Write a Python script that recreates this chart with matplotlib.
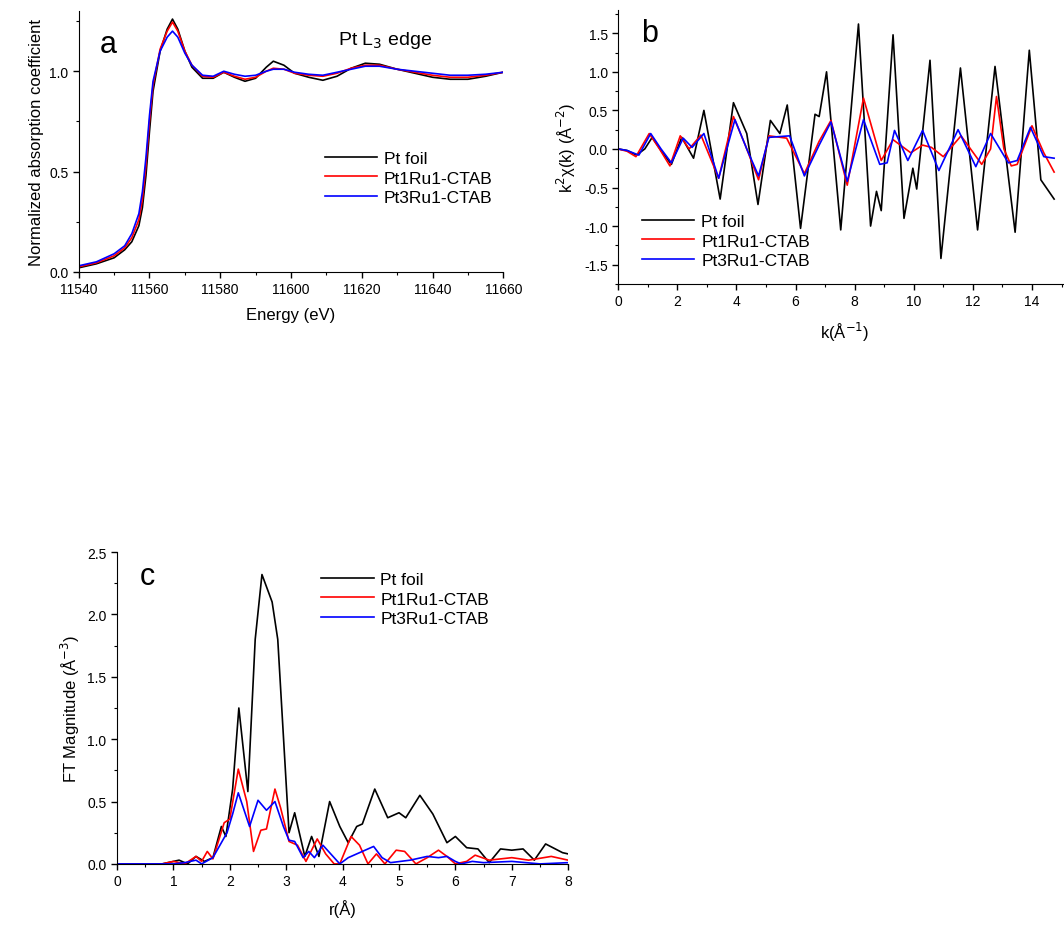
import matplotlib
matplotlib.use("Agg")
import matplotlib.pyplot as plt
from matplotlib.ticker import MultipleLocator, AutoMinorLocator

plt.rcParams["font.family"] = ["Liberation Sans", "DejaVu Sans"]
plt.rcParams["axes.unicode_minus"] = False

LABELS = ["Pt foil", "Pt1Ru1-CTAB", "Pt3Ru1-CTAB"]
COLORS = ["black", "red", "blue"]

# ── Panel a: XANES ────────────────────────────────────────────────────────────
E = [11540, 11545, 11550, 11553, 11555, 11557, 11558, 11559, 11560, 11561, 11563, 11565,
     11566.5, 11568, 11570, 11572, 11575, 11578, 11581, 11584, 11587, 11590, 11593, 11595,
     11598, 11601, 11605, 11609, 11613, 11617, 11621, 11625, 11630, 11635, 11640,
     11645, 11650, 11655, 11660]
xanes_foil = [0.02, 0.04, 0.07, 0.11, 0.15, 0.23, 0.32, 0.48, 0.70, 0.90, 1.10, 1.21, 1.26,
              1.21, 1.10, 1.02, 0.965, 0.965, 0.995, 0.97, 0.95, 0.965, 1.02, 1.05, 1.03,
              0.99, 0.97, 0.955, 0.975, 1.015, 1.04, 1.035, 1.01, 0.99, 0.97, 0.96, 0.96,
              0.975, 0.995]
xanes_11 = [0.025, 0.045, 0.08, 0.12, 0.17, 0.26, 0.36, 0.53, 0.75, 0.93, 1.11, 1.20, 1.245,
            1.20, 1.10, 1.03, 0.975, 0.97, 0.995, 0.975, 0.96, 0.97, 1.0, 1.015, 1.01,
            0.99, 0.98, 0.975, 0.99, 1.015, 1.03, 1.03, 1.01, 0.995, 0.98, 0.97, 0.97,
            0.98, 0.995]
xanes_31 = [0.03, 0.05, 0.09, 0.13, 0.19, 0.29, 0.40, 0.57, 0.78, 0.95, 1.10, 1.17, 1.20,
            1.17, 1.09, 1.03, 0.98, 0.975, 1.0, 0.985, 0.975, 0.98, 1.0, 1.01, 1.01,
            0.995, 0.985, 0.98, 0.995, 1.01, 1.025, 1.025, 1.01, 1.0, 0.99, 0.98, 0.98,
            0.985, 0.995]

# ── Panel b: k2 chi(k) ───────────────────────────────────────────────────────
k_foil = [0, 0.3, 0.62, 0.9, 1.15, 1.5, 1.8, 2.15, 2.55, 2.9, 3.45, 3.9, 4.35, 4.73, 5.15,
          5.47, 5.72, 6.17, 6.66, 6.8, 7.05, 7.53, 8.13, 8.54, 8.74, 8.9, 9.3, 9.67, 9.97,
          10.1, 10.55, 10.92, 11.58, 12.16, 12.75, 13.43, 13.91, 14.3, 14.75]
chi_foil = [0, -0.02, -0.08, 0.0, 0.15, -0.05, -0.2, 0.15, -0.12, 0.5, -0.65, 0.6, 0.2,
            -0.72, 0.37, 0.2, 0.57, -1.03, 0.45, 0.42, 1.0, -1.05, 1.62, -1.0, -0.55, -0.8,
            1.48, -0.9, -0.25, -0.52, 1.15, -1.42, 1.05, -1.05, 1.07, -1.08, 1.28, -0.4, -0.65]
k_11 = [0, 0.3, 0.6, 1.05, 1.4, 1.75, 2.1, 2.4, 2.8, 3.4, 3.9, 4.3, 4.75, 5.1, 5.7, 6.3,
        6.8, 7.2, 7.75, 8.3, 8.9, 9.3, 9.9, 10.3, 10.6, 11.0, 11.6, 12.3, 12.6, 12.8,
        13.05, 13.3, 13.5, 14.0, 14.4, 14.75]
chi_11 = [0, -0.03, -0.1, 0.2, 0.0, -0.22, 0.17, 0.0, 0.18, -0.38, 0.42, 0.05, -0.4, 0.17,
          0.14, -0.32, 0.1, 0.37, -0.47, 0.66, -0.15, 0.12, -0.05, 0.05, 0.02, -0.1, 0.17,
          -0.2, 0.0, 0.68, 0.0, -0.22, -0.2, 0.3, -0.05, -0.3]
k_31 = [0, 0.3, 0.7, 1.1, 1.45, 1.8, 2.2, 2.5, 2.9, 3.4, 3.95, 4.35, 4.75, 5.1, 5.8, 6.3,
        6.8, 7.2, 7.75, 8.3, 8.85, 9.1, 9.35, 9.8, 10.3, 10.85, 11.5, 12.1, 12.6, 13.2,
        13.5, 13.95, 14.4, 14.75]
chi_31 = [0, -0.02, -0.08, 0.2, 0.0, -0.18, 0.14, 0.02, 0.2, -0.38, 0.38, 0.0, -0.35, 0.15,
          0.17, -0.35, 0.05, 0.35, -0.42, 0.38, -0.2, -0.18, 0.24, -0.15, 0.24, -0.28,
          0.25, -0.23, 0.2, -0.18, -0.15, 0.28, -0.1, -0.12]

# ── Panel c: FT magnitude ─────────────────────────────────────────────────────
r_foil = [0, 0.8, 1.0, 1.1, 1.25, 1.4, 1.55, 1.7, 1.85, 1.93, 2.05, 2.16, 2.32, 2.45, 2.57,
          2.75, 2.85, 3.05, 3.15, 3.33, 3.45, 3.58, 3.77, 3.95, 4.1, 4.25, 4.35, 4.57, 4.8,
          5.0, 5.12, 5.37, 5.6, 5.85, 6.0, 6.2, 6.4, 6.6, 6.8, 7.0, 7.2, 7.4, 7.6, 7.9, 8.0]
ft_foil = [0, 0, 0.02, 0.03, 0.0, 0.06, 0.02, 0.05, 0.3, 0.22, 0.6, 1.25, 0.58, 1.8, 2.32,
           2.1, 1.8, 0.25, 0.41, 0.06, 0.22, 0.06, 0.5, 0.3, 0.17, 0.3, 0.32, 0.6, 0.37,
           0.41, 0.37, 0.55, 0.4, 0.17, 0.22, 0.13, 0.12, 0.01, 0.12, 0.11, 0.12, 0.03,
           0.16, 0.09, 0.08]
r_11 = [0, 0.8, 1.0, 1.2, 1.4, 1.5, 1.6, 1.7, 1.9, 2.0, 2.15, 2.3, 2.42, 2.55, 2.65, 2.8,
        2.9, 3.05, 3.2, 3.35, 3.55, 3.7, 3.85, 3.95, 4.15, 4.3, 4.45, 4.6, 4.75, 4.95, 5.1,
        5.3, 5.5, 5.7, 5.85, 6.0, 6.2, 6.35, 6.6, 7.0, 7.3, 7.7, 8.0]
ft_11 = [0, 0, 0.02, 0.0, 0.06, 0.02, 0.1, 0.04, 0.33, 0.36, 0.76, 0.5, 0.1, 0.27, 0.28,
         0.6, 0.45, 0.18, 0.15, 0.02, 0.2, 0.08, 0.0, 0.0, 0.22, 0.15, 0.0, 0.08, 0.0, 0.11,
         0.1, 0.0, 0.05, 0.11, 0.06, 0.0, 0.02, 0.07, 0.03, 0.05, 0.03, 0.06, 0.03]
r_31 = [0, 1.0, 1.2, 1.4, 1.5, 1.7, 1.95, 2.05, 2.15, 2.35, 2.5, 2.65, 2.8, 2.95, 3.05,
        3.15, 3.3, 3.4, 3.5, 3.65, 3.85, 3.95, 4.1, 4.35, 4.55, 4.7, 4.85, 5.2, 5.5, 5.7,
        5.85, 6.0, 6.1, 6.3, 6.5, 7.0, 7.5, 8.0]
ft_31 = [0, 0, 0.01, 0.03, 0.0, 0.05, 0.25, 0.4, 0.57, 0.3, 0.51, 0.43, 0.5, 0.3, 0.19,
         0.18, 0.05, 0.1, 0.05, 0.15, 0.05, 0.0, 0.05, 0.1, 0.14, 0.05, 0.01, 0.03, 0.06,
         0.05, 0.06, 0.02, 0.0, 0.02, 0.01, 0.02, 0.0, 0.01]

# ── Figure ────────────────────────────────────────────────────────────────────
fig = plt.figure(figsize=(10.64, 9.28), dpi=100, facecolor="white")
ax1 = fig.add_axes([0.074, 0.706, 0.399, 0.281])
ax2 = fig.add_axes([0.581, 0.693, 0.425, 0.295])
ax3 = fig.add_axes([0.110, 0.068, 0.424, 0.336])

for ax in [ax1, ax2, ax3]:
    ax.spines[["top", "right"]].set_visible(False)
    ax.tick_params(direction="out", labelsize=10, length=4, width=1)
    ax.tick_params(which="minor", direction="out", length=2.5, width=0.8)
    ax.xaxis.set_minor_locator(AutoMinorLocator(2))
    ax.yaxis.set_minor_locator(AutoMinorLocator(2))

LEG = dict(frameon=False, fontsize=12.5, handlelength=3, labelspacing=0.25,
           handletextpad=0.4, borderaxespad=0.2)

# a
for y, c, lab in zip([xanes_foil, xanes_11, xanes_31], COLORS, LABELS):
    ax1.plot(E, y, color=c, lw=1.2, label=lab)
ax1.set_xlim(11540, 11660)
ax1.set_ylim(0, 1.3)
ax1.xaxis.set_major_locator(MultipleLocator(20))
ax1.yaxis.set_major_locator(MultipleLocator(0.5))
ax1.set_xlabel("Energy (eV)", fontsize=12, labelpad=8)
ax1.set_ylabel("Normalized absorption coefficient", fontsize=12)
ax1.text(0.05, 0.93, "a", transform=ax1.transAxes, fontsize=22, va="top")
ax1.text(0.61, 0.93, "Pt L$_3$ edge", transform=ax1.transAxes, fontsize=14, va="top")
ax1.legend(loc="center right", bbox_to_anchor=(1.0, 0.36), **LEG)

# b
ax2.plot(k_foil, chi_foil, color="black", lw=1.2, label=LABELS[0])
ax2.plot(k_11, chi_11, color="red", lw=1.2, label=LABELS[1])
ax2.plot(k_31, chi_31, color="blue", lw=1.2, label=LABELS[2])
ax2.set_xlim(0, 15.3)
ax2.set_ylim(-1.75, 1.8)
ax2.xaxis.set_major_locator(MultipleLocator(2))
ax2.yaxis.set_major_locator(MultipleLocator(0.5))
ax2.set_xlabel("k(Å$^{-1}$)", fontsize=12, labelpad=8)
ax2.set_ylabel("k$^2$χ(k) (Å$^{-2}$)", fontsize=12)
ax2.text(0.05, 0.97, "b", transform=ax2.transAxes, fontsize=22, va="top")
ax2.legend(loc="lower left", bbox_to_anchor=(0.03, 0.02), **LEG)

# c
for r, y, c, lab in zip([r_foil, r_11, r_31], [ft_foil, ft_11, ft_31], COLORS, LABELS):
    ax3.plot(r, y, color=c, lw=1.2, label=lab)
ax3.set_xlim(0, 8)
ax3.set_ylim(0, 2.5)
ax3.xaxis.set_major_locator(MultipleLocator(1))
ax3.yaxis.set_major_locator(MultipleLocator(0.5))
ax3.set_xlabel("r(Å)", fontsize=12, labelpad=8)
ax3.set_ylabel("FT Magnitude (Å$^{-3}$)", fontsize=12)
ax3.text(0.05, 0.97, "c", transform=ax3.transAxes, fontsize=22, va="top")
ax3.legend(loc="upper left", bbox_to_anchor=(0.43, 0.97), **LEG)

fig.savefig("out.png", dpi=100, facecolor="white")
